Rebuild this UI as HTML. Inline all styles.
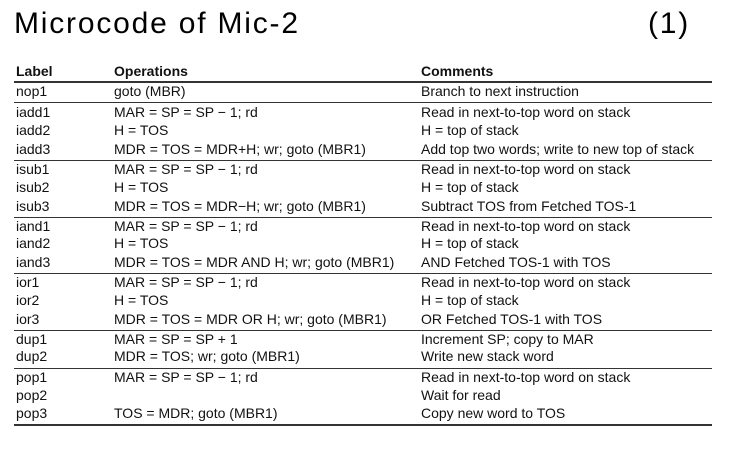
<!DOCTYPE html>
<html><head><meta charset="utf-8"><style>
body{margin:0;width:752px;height:452px;background:#fff;position:relative;overflow:hidden;font-family:"Liberation Sans",sans-serif;color:#111}
.t{position:absolute;font-size:30px;top:7px;font-family:"Liberation Sans",sans-serif;color:#000;letter-spacing:1.8px}
.r{position:absolute;left:0;width:752px;height:19px;font-size:14px;line-height:19px}
.r span{position:absolute;white-space:nowrap}
.c1{left:16px}.c2{left:114px}.c3{left:421px}
.h{position:absolute;left:14px;width:698px;background:#333}
</style></head><body>
<div class="t" style="left:14px">Microcode of Mic-2</div>
<div class="t" style="left:648px">(1)</div>
<div id="tbl"></div>
<script>
const rows=[
["Label","Operations","Comments"],
["nop1","goto (MBR)","Branch to next instruction"],
["iadd1","MAR = SP = SP − 1; rd","Read in next-to-top word on stack"],
["iadd2","H = TOS","H = top of stack"],
["iadd3","MDR = TOS = MDR+H; wr; goto (MBR1)","Add top two words; write to new top of stack"],
["isub1","MAR = SP = SP − 1; rd","Read in next-to-top word on stack"],
["isub2","H = TOS","H = top of stack"],
["isub3","MDR = TOS = MDR−H; wr; goto (MBR1)","Subtract TOS from Fetched TOS-1"],
["iand1","MAR = SP = SP − 1; rd","Read in next-to-top word on stack"],
["iand2","H = TOS","H = top of stack"],
["iand3","MDR = TOS = MDR AND H; wr; goto (MBR1)","AND Fetched TOS-1 with TOS"],
["ior1","MAR = SP = SP − 1; rd","Read in next-to-top word on stack"],
["ior2","H = TOS","H = top of stack"],
["ior3","MDR = TOS = MDR OR H; wr; goto (MBR1)","OR Fetched TOS-1 with TOS"],
["dup1","MAR = SP = SP + 1","Increment SP; copy to MAR"],
["dup2","MDR = TOS; wr; goto (MBR1)","Write new stack word"],
["pop1","MAR = SP = SP − 1; rd","Read in next-to-top word on stack"],
["pop2","","Wait for read"],
["pop3","TOS = MDR; goto (MBR1)","Copy new word to TOS"]];
const ys=[72,92,113,131,150,170,188,207,227,244,263,283,301,320,340,357,378,396,414];
const lines=[[81,1.5],[102,1],[160,1],[217,1],[273,1],[330,1],[368,1],[424,2]];
const tbl=document.getElementById('tbl');
rows.forEach((r,i)=>{
 const d=document.createElement('div');d.className='r';d.style.top=(ys[i]-10)+'px';
 
 
 r.forEach((t,j)=>{const s=document.createElement('span');s.className='c'+(j+1);s.textContent=t;
  if(i==0)s.style.fontWeight='bold';
  
  
  d.appendChild(s);});
 tbl.appendChild(d);
});
lines.forEach(l=>{const h=document.createElement('div');h.className='h';h.style.top=l[0]+'px';h.style.height=l[1]+'px';
 
 
 tbl.appendChild(h);});
</script>
</body></html>
